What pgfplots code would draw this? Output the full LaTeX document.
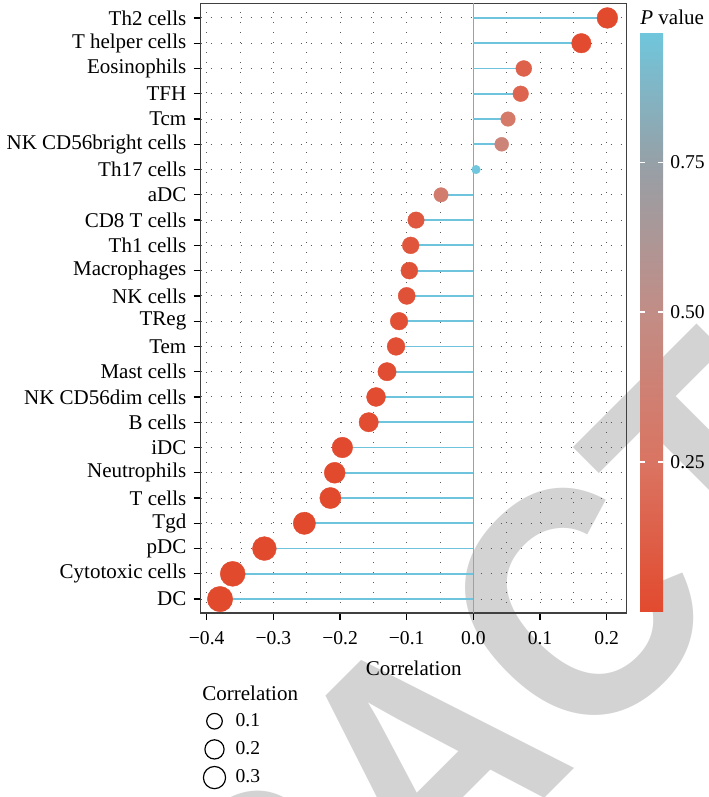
\documentclass[border=0pt]{standalone}
\usepackage{fontspec}
\setmainfont{Liberation Serif}
\newfontfamily\wmfont{Liberation Sans}
\usepackage{pgfplots}
\pgfplotsset{compat=1.18}
\usepackage{pgfplotstable}

\definecolor{lollipop}{RGB}{110,196,220}
\definecolor{zeroline}{RGB}{160,160,160}
\definecolor{wm}{RGB}{211,211,211}

\pgfplotstableread{
y r p
1 -0.380 0.000
2 -0.361 0.000
3 -0.3135 0.0001
4 -0.2535 0.001
5 -0.2145 0.002
6 -0.208 0.002
7 -0.1965 0.003
8 -0.157 0.01
9 -0.146 0.01
10 -0.1295 0.02
11 -0.116 0.03
12 -0.1115 0.03
13 -0.100 0.05
14 -0.096 0.05
15 -0.094 0.07
16 -0.086 0.08
17 -0.0485 0.33
18 0.004 0.966
19 0.0425 0.40
20 0.052 0.30
21 0.071 0.16
22 0.0756 0.14
23 0.162 0.005
24 0.201 0.001
}\datatable

\begin{document}
\fontsize{10.5}{12.6}\selectfont
\begin{tikzpicture}
\node[font={\wmfont\bfseries\fontsize{165}{165}\selectfont}, text=wm, rotate=45, xscale=0.9, anchor=center, inner sep=0pt] at (212pt,19.5pt) {RETRACTED};

\begin{axis}[
  at={(100.35pt,92pt)}, anchor=south west,
  scale only axis, width=213pt, height=304.85pt,
  xmin=-0.409, xmax=0.230, ymin=0.45, ymax=24.58,
  xtick={-0.4,-0.3,-0.2,-0.1,0,0.1,0.2},
  xticklabels={−0.4,−0.3,−0.2,−0.1,0.0,0.1,0.2},
  minor x tick num=1,
  ytick={1,...,24},
  yticklabels={DC,Cytotoxic cells,pDC,Tgd,T cells,Neutrophils,iDC,B cells,NK CD56dim cells,Mast cells,Tem,TReg,NK cells,Macrophages,Th1 cells,CD8 T cells,aDC,Th17 cells,NK CD56bright cells,Tcm,TFH,Eosinophils,T helper cells,Th2 cells},
  xticklabel style={font=\fontsize{9.8}{11}\selectfont, yshift=-2pt},
  tick align=outside, major tick length=3.5pt, minor tick length=0pt,
  xtick pos=left, ytick pos=left,
  tick style={black, line width=0.65pt},
  axis line style={black!75, line width=0.6pt},
  grid=both,
  major grid style={black!65, line width=0.5pt, dash pattern=on 0.5pt off 4.5pt},
  minor grid style={black!65, line width=0.5pt, dash pattern=on 0.5pt off 4.5pt},
  xlabel={Correlation},
  xlabel style={at={(axis description cs:0.5,0)}, anchor=center, yshift=-27.5pt},
  point meta min=0, point meta max=0.966,
  colormap={pv}{rgb255(0pt)=(226,74,46) rgb255(250pt)=(218,116,98) rgb255(500pt)=(194,141,134) rgb255(750pt)=(150,160,167) rgb255(966pt)=(112,198,220)},
  colorbar,
  colorbar style={
    at={(parent axis.north east)}, anchor=north west,
    xshift=-1.85pt, yshift=-14.85pt,
    scale only axis, width=11.5pt, height=289.5pt,
    ytick={0.25,0.5,0.75}, yticklabels={0.25,0.50,0.75},
    ytick pos=both, yticklabel pos=right,
    tick align=inside, major tick length=2.3pt,
    ytick style={white, line width=0.9pt},
    axis line style={draw=none},
    yticklabel style={font=\fontsize{9.8}{11}\selectfont},
  },
  legend style={at={(axis description cs:0.0054,-0.157)}, anchor=north west, draw=none, fill=none, inner sep=0pt, row sep=2pt, font=\fontsize{9.8}{11}\selectfont,
    /tikz/every odd column/.append style={column sep=3pt}},
  legend cell align=left,
]
\addplot[zeroline, line width=0.8pt, forget plot] coordinates {(0,0.45) (0,24.58)};
\addplot[xcomb, lollipop, line width=0.9pt, forget plot] table[x=r, y=y] {\datatable};
\addplot[scatter, only marks, mark=*, scatter src=explicit, forget plot,
  scatter/use mapped color={draw=mapped color, fill=mapped color},
  visualization depends on={2.15+4.2*sqrt(max(0,(abs(\thisrow{r})-0.004)/0.376)) \as \msize},
  scatter/@pre marker code/.append style={/tikz/mark size=\msize},
  mark options={line width=0.2pt}]
  table[x=r, y=y, meta=p] {\datatable};
\addlegendimage{only marks, mark=o, mark size=3.9pt, black, line width=0.6pt}
\addlegendentry{0.1}
\addlegendimage{only marks, mark=o, mark size=4.8pt, black, line width=0.6pt}
\addlegendentry{0.2}
\addlegendimage{only marks, mark=o, mark size=5.55pt, black, line width=0.6pt}
\addlegendentry{0.3}
\end{axis}
\node[anchor=west, inner sep=0pt] at (101pt,52pt) {Correlation};
\node[anchor=west, inner sep=0pt] at (320pt,390pt) {\textit{P} value};
\pgfresetboundingbox
\path[use as bounding box] (0,0) rectangle (354pt,398.5pt);
\end{tikzpicture}
\end{document}
